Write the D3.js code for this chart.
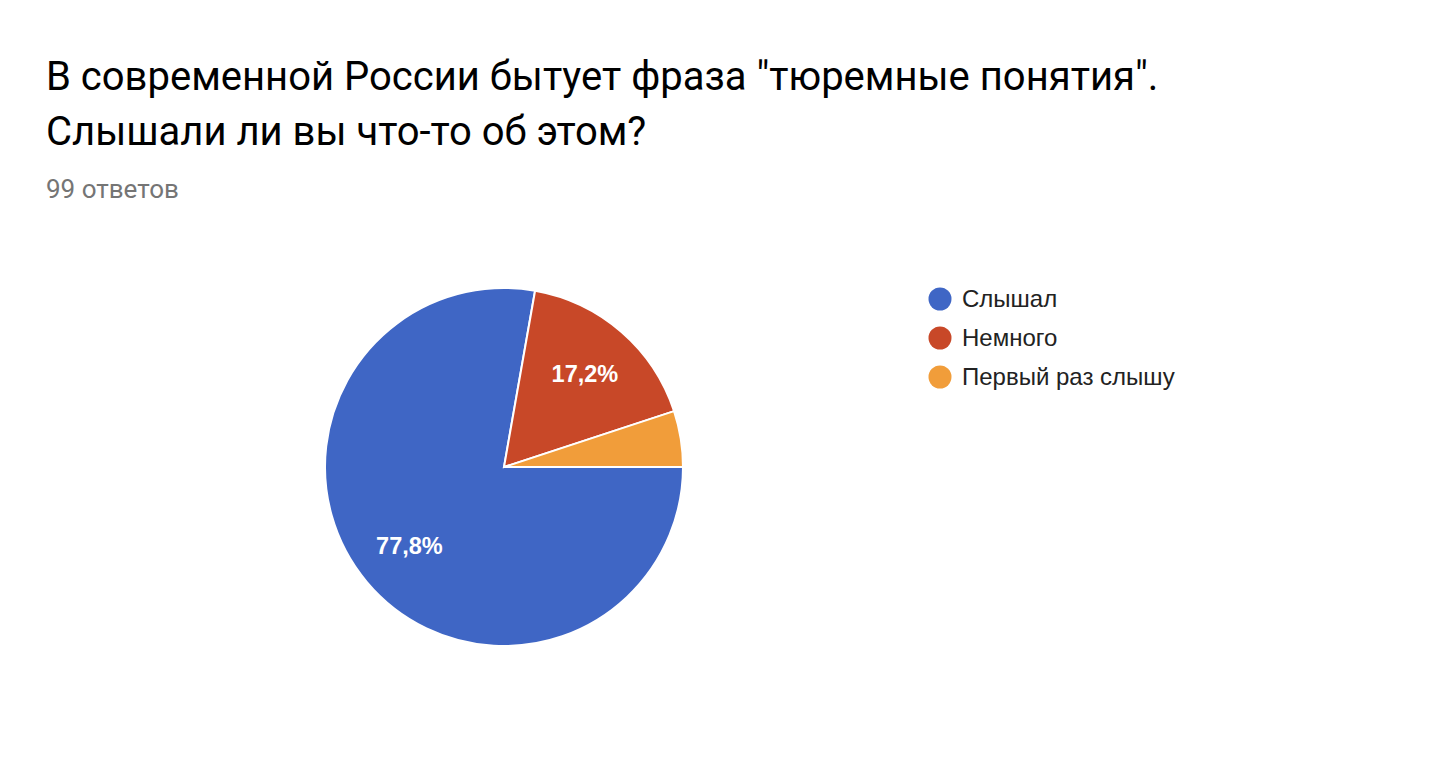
<!DOCTYPE html>
<html><head><meta charset="utf-8">
<script src="https://cdn.jsdelivr.net/npm/d3@7"></script>
<style>body{margin:0;background:#fff;}</style>
</head><body>
<svg id="c" width="1450" height="768"></svg>
<script>
const categories = ["Слышал", "Немного", "Первый раз слышу"];
const counts = [77, 17, 5];
const percentLabels = ["77,8%", "17,2%", ""];
const colors = ["#3f66c5", "#c84828", "#f19d3a"];
const titleLines = ["В современной России бытует фраза \"тюремные понятия\".", "Слышали ли вы что-то об этом?"];
const subtitle = "99 ответов";

const svg = d3.select("#c");
svg.append("text").attr("x", 46).attr("y", 90).attr("font-family", "Roboto").attr("font-size", 40).attr("fill", "#000")
  .selectAll("tspan").data(titleLines).join("tspan").attr("x", 46).attr("dy", (d, i) => i ? 54.5 : 0).text(d => d);
svg.append("text").attr("x", 46).attr("y", 197.5).attr("font-family", "Roboto").attr("font-size", 26).attr("fill", "#757575").text(subtitle);

const cx = 504, cy = 467, r = 179;
const pie = d3.pie().sort(null).startAngle(Math.PI / 2).endAngle(Math.PI / 2 + 2 * Math.PI);
const arcs = pie(counts);
const arc = d3.arc().innerRadius(0).outerRadius(r);
const g = svg.append("g").attr("transform", `translate(${cx},${cy})`);
g.selectAll("path").data(arcs).join("path").attr("d", arc).attr("fill", (d, i) => colors[i]).attr("stroke", "#fff").attr("stroke-width", 2);
const labelArc = d3.arc().innerRadius(r * 0.69).outerRadius(r * 0.69);
g.selectAll("text").data(arcs).join("text")
  .attr("transform", d => `translate(${labelArc.centroid(d)})`)
  .attr("text-anchor", "middle").attr("dominant-baseline", "central")
  .attr("font-family", "Liberation Sans, Arial").attr("font-weight", "bold").attr("font-size", 23.5).attr("fill", "#fff")
  .text((d, i) => percentLabels[i]);

const leg = svg.append("g");
const items = leg.selectAll("g").data(categories).join("g").attr("transform", (d, i) => `translate(940,${299 + i * 39})`);
items.append("circle").attr("r", 11.5).attr("fill", (d, i) => colors[i]);
items.append("text").attr("x", 22).attr("dy", "0.35em").attr("font-family", "Liberation Sans, Arial").attr("font-size", 24).attr("fill", "#222").text(d => d);
</script>
</body></html>
